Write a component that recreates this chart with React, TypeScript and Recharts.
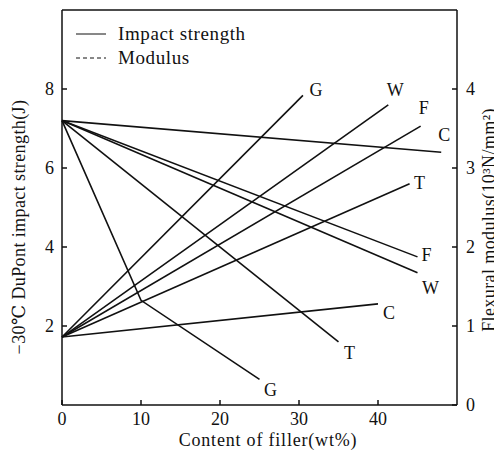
import { LineChart, Line, XAxis, YAxis, ReferenceLine, Label } from 'recharts';

// impact strength (J, left axis) vs filler content (wt%)
const impactG = [
  { wt: 0, v: 7.2 },
  { wt: 10, v: 2.65 },
  { wt: 25, v: 0.65 },
];
const impactT = [
  { wt: 0, v: 7.2 },
  { wt: 35, v: 1.6 },
];
const impactW = [
  { wt: 0, v: 7.2 },
  { wt: 45, v: 3.35 },
];
const impactF = [
  { wt: 0, v: 7.2 },
  { wt: 45, v: 3.75 },
];
const impactC = [
  { wt: 0, v: 7.2 },
  { wt: 48, v: 6.4 },
];

// flexural modulus (10^3 N/mm2, right axis)
const modulusG = [
  { wt: 0, v: 0.86 },
  { wt: 30.5, v: 3.92 },
];
const modulusW = [
  { wt: 0, v: 0.86 },
  { wt: 41.3, v: 3.8 },
];
const modulusF = [
  { wt: 0, v: 0.86 },
  { wt: 45.4, v: 3.53 },
];
const modulusT = [
  { wt: 0, v: 0.86 },
  { wt: 44, v: 2.8 },
];
const modulusC = [
  { wt: 0, v: 0.86 },
  { wt: 40, v: 1.28 },
];

const xTicks = [0, 10, 20, 30, 40];
const leftTicks = [2, 4, 6, 8];
const rightTicks = [0, 1, 2, 3, 4];

const FONT = '"Liberation Serif", "DejaVu Serif", serif';

// draws the filler letter next to the last point of a line
const endLabel = (name: string, dx: number, dy: number, last: number) => (props: any) => {
  const { cx, cy, index } = props;
  if (index !== last) return <g key={index} />;
  return (
    <text
      key={index}
      x={cx + dx}
      y={cy + dy}
      textAnchor="middle"
      dominantBaseline="central"
      fontFamily={FONT}
      fontSize={18}
      fill="#111"
    >
      {name}
    </text>
  );
};

const series = [
  { data: impactG, axis: 'left', name: 'G', dx: 11, dy: 11 },
  { data: impactT, axis: 'left', name: 'T', dx: 11, dy: 11 },
  { data: impactW, axis: 'left', name: 'W', dx: 13, dy: 15 },
  { data: impactF, axis: 'left', name: 'F', dx: 9, dy: -2 },
  { data: impactC, axis: 'left', name: 'C', dx: 3, dy: -17 },
  { data: modulusG, axis: 'right', name: 'G', dx: 13, dy: -5 },
  { data: modulusW, axis: 'right', name: 'W', dx: 7, dy: -15 },
  { data: modulusF, axis: 'right', name: 'F', dx: 3, dy: -18 },
  { data: modulusT, axis: 'right', name: 'T', dx: 10, dy: -1 },
  { data: modulusC, axis: 'right', name: 'C', dx: 11, dy: 9 },
];

const tickStyle = { fill: '#111', fontSize: 18, fontFamily: FONT };

export default function App() {
  return (
    <div style={{ position: 'relative', width: 494, height: 447 }}>
      <LineChart width={494} height={447} margin={{ top: 2, right: 0, bottom: 0, left: 0 }}>
        <XAxis
          dataKey="wt"
          type="number"
          domain={[0, 50]}
          ticks={xTicks}
          height={50}
          stroke="#111"
          strokeWidth={1.5}
          tickSize={-5}
          tickMargin={12}
          tick={tickStyle}
          allowDuplicatedCategory={false}
        >
          <Label
            content={() => (
              <text
                x={260}
                y={432}
                textAnchor="middle"
                dominantBaseline="central"
                fontFamily={FONT}
                fontSize={18}
                letterSpacing={0.8}
                fill="#111"
              >
                Content of filler(wt%)
              </text>
            )}
          />
        </XAxis>
        <YAxis
          yAxisId="left"
          domain={[0, 10]}
          ticks={leftTicks}
          width={54}
          stroke="#111"
          strokeWidth={1.5}
          tickSize={-5}
          tickMargin={13}
          tick={tickStyle}
        >
          <Label
            content={() => (
              <text
                x={11}
                y={219}
                transform="rotate(-90 11 219)"
                textAnchor="middle"
                dominantBaseline="central"
                fontFamily={FONT}
                fontSize={18}
                letterSpacing={0.4}
                fill="#111"
              >
                −30℃ DuPont impact strength(J)
              </text>
            )}
          />
        </YAxis>
        <YAxis
          yAxisId="right"
          orientation="right"
          domain={[0, 5]}
          ticks={rightTicks}
          width={45}
          stroke="#111"
          strokeWidth={1.5}
          tickSize={-5}
          tickMargin={14}
          tick={tickStyle}
        >
          <Label
            content={() => (
              <text
                x={481}
                y={212}
                transform="rotate(-90 481 212)"
                textAnchor="middle"
                dominantBaseline="central"
                fontFamily={FONT}
                fontSize={18}
                letterSpacing={0.4}
                fill="#111"
              >
                Flexural modulus(10³N/mm²)
              </text>
            )}
          />
        </YAxis>
        <ReferenceLine yAxisId="left" y={10} stroke="#111" strokeWidth={1.5} />
        {series.map((s, i) => (
          <Line
            key={i}
            data={s.data}
            dataKey="v"
            yAxisId={s.axis}
            type="linear"
            stroke="#111"
            strokeWidth={1.6}
            dot={endLabel(s.name, s.dx, s.dy, s.data.length - 1)}
            activeDot={false}
            isAnimationActive={false}
          />
        ))}
      </LineChart>
      <div
        style={{
          position: 'absolute',
          left: 67,
          top: 14,
          fontFamily: FONT,
          fontSize: 19,
          letterSpacing: 0.6,
          color: '#111',
          lineHeight: '24px',
        }}
      >
        <div style={{ display: 'flex', alignItems: 'center' }}>
          <svg width={32} height={10} style={{ marginRight: 11 }}>
            <line x1={1} y1={5} x2={31} y2={5} stroke="#111" strokeWidth={1} />
          </svg>
          Impact strength
        </div>
        <div style={{ display: 'flex', alignItems: 'center' }}>
          <svg width={32} height={10} style={{ marginRight: 11 }}>
            <line x1={1} y1={5} x2={31} y2={5} stroke="#111" strokeWidth={1} strokeDasharray="4 3" />
          </svg>
          Modulus
        </div>
      </div>
    </div>
  );
}
